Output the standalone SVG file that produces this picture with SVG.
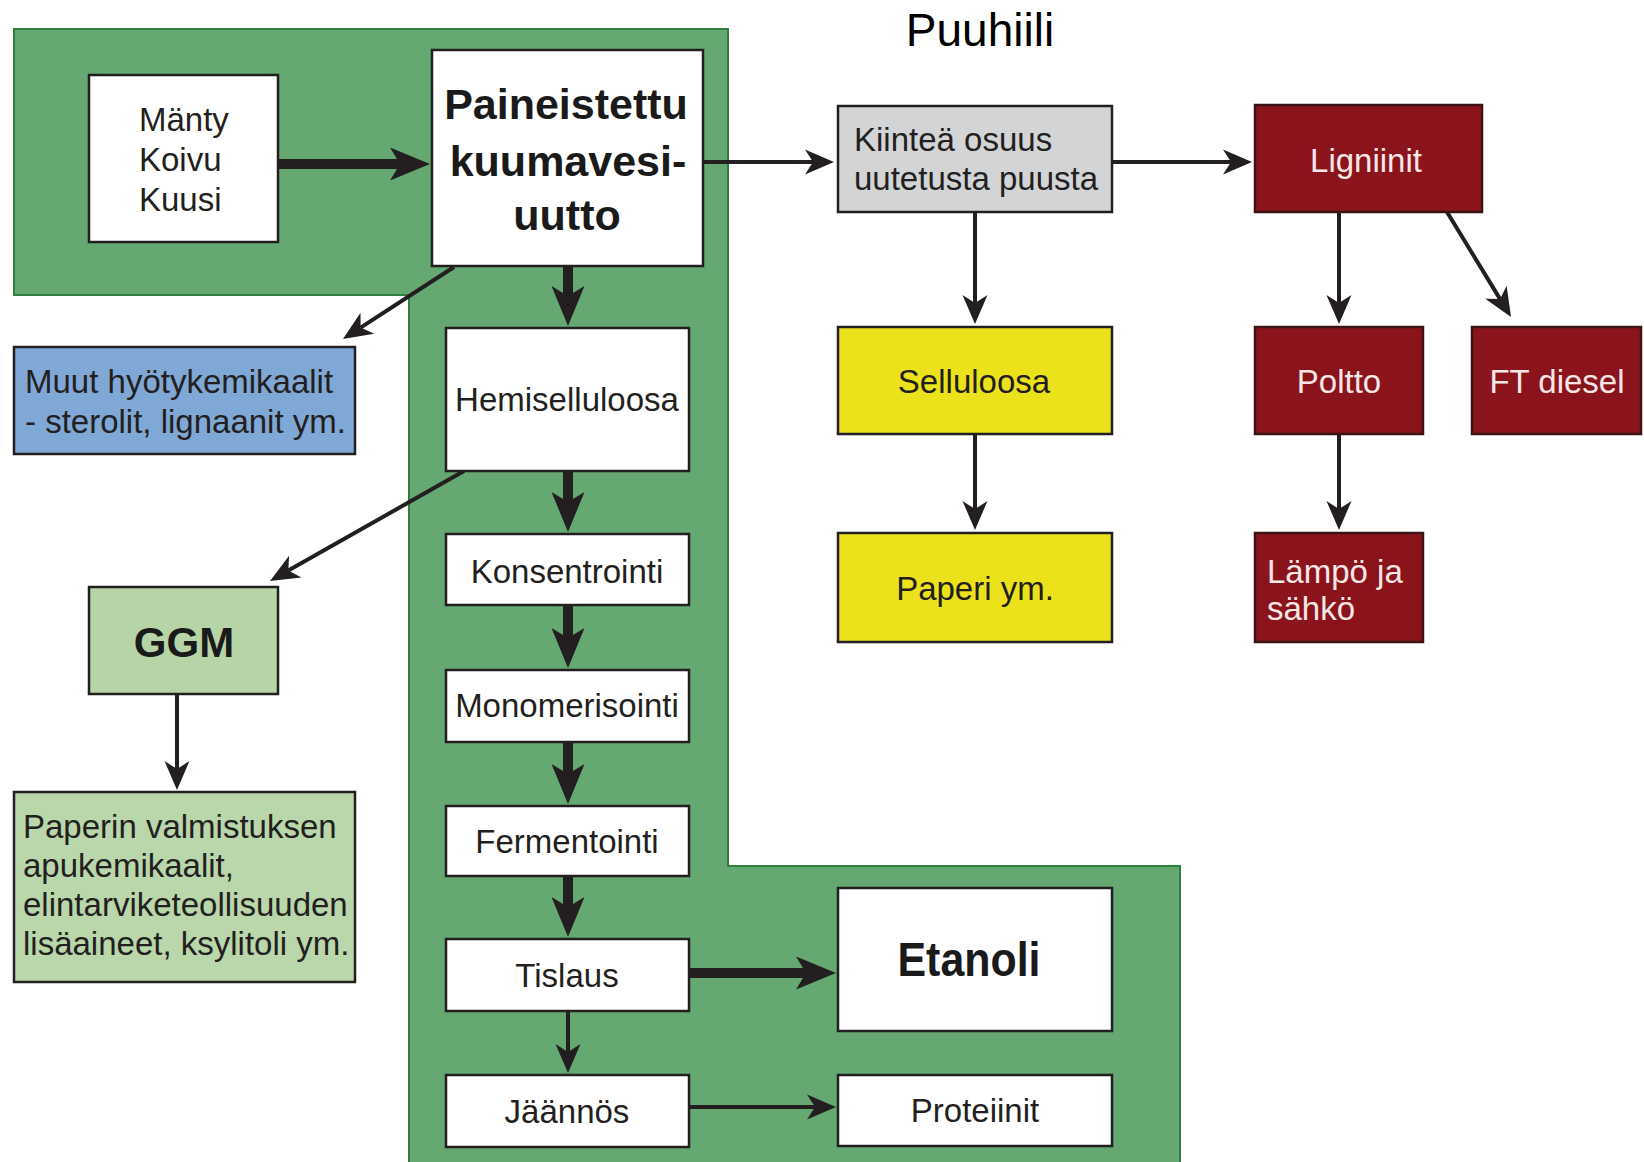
<svg xmlns="http://www.w3.org/2000/svg" width="1644" height="1162" viewBox="0 0 1644 1162">
<style>
.box{stroke:#231f20;stroke-width:2.5}
.w{fill:#ffffff}
.t{font-family:"Liberation Sans",Arial,sans-serif;font-size:33px;fill:#231f20}
.tb{font-family:"Liberation Sans",Arial,sans-serif;font-weight:bold;fill:#1a1a1a}
.red{fill:#8b141c;stroke:#3a1414;stroke-width:2.5}
.rt{fill:#f7e6e6}
.yel{fill:#ece21b}
.c{text-anchor:middle}
.thick{stroke:#231f20;stroke-width:10;fill:none}
.thin{stroke:#231f20;stroke-width:4;fill:none}
</style>
<defs>
<marker id="ahk" markerUnits="userSpaceOnUse" viewBox="-12 -20 50 40" markerWidth="50" markerHeight="40" refX="0" refY="0" orient="auto" overflow="visible">
<path d="M-10,-16.5 L30,0 L-10,16.5 L0,0 Z" fill="#231f20"/>
</marker>
<marker id="ahn" markerUnits="userSpaceOnUse" viewBox="-10 -14 36 28" markerWidth="36" markerHeight="28" refX="0" refY="0" orient="auto" overflow="visible">
<path d="M-8,-12.5 L21,0 L-8,12.5 L0,0 Z" fill="#231f20"/>
</marker>
</defs>
<rect width="1644" height="1162" fill="#ffffff"/>
<path id="bg" d="M14,29 H728 V866 H1180 V1164 H409 V295 H14 Z" fill="#65a872" stroke="#2f7f3f" stroke-width="2"/>
<text x="980" y="46" class="c" style="font-family:'Liberation Sans',Arial,sans-serif;font-size:46px;fill:#000">Puuhiili</text>
<g id="connectors">
<line class="thick" x1="278" y1="164" x2="400" y2="164" marker-end="url(#ahk)"/>
<line class="thick" x1="568" y1="266" x2="568" y2="296" marker-end="url(#ahk)"/>
<line class="thick" x1="568" y1="471" x2="568" y2="502" marker-end="url(#ahk)"/>
<line class="thick" x1="568" y1="605" x2="568" y2="638" marker-end="url(#ahk)"/>
<line class="thick" x1="568" y1="742" x2="568" y2="774" marker-end="url(#ahk)"/>
<line class="thick" x1="568" y1="876" x2="568" y2="907" marker-end="url(#ahk)"/>
<line class="thick" x1="689" y1="973" x2="806" y2="973" marker-end="url(#ahk)"/>
<line class="thin" x1="703" y1="162" x2="813" y2="162" marker-end="url(#ahn)"/>
<line class="thin" x1="1112" y1="162" x2="1231" y2="162" marker-end="url(#ahn)"/>
<line class="thin" x1="975" y1="212" x2="975" y2="303" marker-end="url(#ahn)"/>
<line class="thin" x1="975" y1="434" x2="975" y2="509" marker-end="url(#ahn)"/>
<line class="thin" x1="1339" y1="212" x2="1339" y2="303" marker-end="url(#ahn)"/>
<line class="thin" x1="1339" y1="434" x2="1339" y2="509" marker-end="url(#ahn)"/>
<line class="thin" x1="1447" y1="212" x2="1500.1" y2="299.1" marker-end="url(#ahn)"/>
<line class="thin" x1="454" y1="267" x2="360.6" y2="327.6" marker-end="url(#ahn)"/>
<line class="thin" x1="464" y1="471" x2="288.3" y2="570.6" marker-end="url(#ahn)"/>
<line class="thin" x1="568" y1="1011" x2="568" y2="1052" marker-end="url(#ahn)"/>
<line class="thin" x1="689" y1="1107" x2="815" y2="1107" marker-end="url(#ahn)"/>
<line class="thin" x1="177" y1="694" x2="177" y2="769" marker-end="url(#ahn)"/>
</g>
<g id="n-puulajit"><rect class="box w" x="89" y="75" width="189" height="167"/>
<text class="t" x="139" y="131">Mänty</text><text class="t" x="139" y="171">Koivu</text><text class="t" x="139" y="211">Kuusi</text></g>
<g id="n-uutto"><rect class="box w" x="432" y="50" width="271" height="216"/>
<text class="tb c" x="566" y="119" font-size="43">Paineistettu</text>
<text class="tb c" x="568" y="176" font-size="43">kuumavesi-</text>
<text class="tb c" x="567" y="230" font-size="43">uutto</text></g>
<g id="n-kiintea"><rect class="box" fill="#d3d4d6" x="838" y="106" width="274" height="106"/>
<text class="t" x="854" y="151">Kiinteä osuus</text><text class="t" x="854" y="190">uutetusta puusta</text></g>
<g id="n-ligniinit"><rect class="red" x="1255" y="105" width="227" height="107"/>
<text class="t rt c" x="1366" y="172">Ligniinit</text></g>
<g id="n-selluloosa"><rect class="box yel" x="838" y="327" width="274" height="107"/>
<text class="t c" x="974" y="393">Selluloosa</text></g>
<g id="n-poltto"><rect class="red" x="1255" y="327" width="168" height="107"/>
<text class="t rt c" x="1339" y="393">Poltto</text></g>
<g id="n-ftdiesel"><rect class="red" x="1472" y="327" width="169" height="107"/>
<text class="t rt c" x="1557" y="393">FT diesel</text></g>
<g id="n-paperi"><rect class="box yel" x="838" y="533" width="274" height="109"/>
<text class="t c" x="975" y="600">Paperi ym.</text></g>
<g id="n-lampo"><rect class="red" x="1255" y="533" width="168" height="109"/>
<text class="t rt" x="1267" y="583">Lämpö ja</text><text class="t rt" x="1267" y="620">sähkö</text></g>
<g id="n-muut"><rect class="box" fill="#7fa8d6" x="14" y="347" width="341" height="107"/>
<text class="t" x="25" y="393">Muut hyötykemikaalit</text><text class="t" x="25" y="433">- sterolit, lignaanit ym.</text></g>
<g id="n-hemi"><rect class="box w" x="446" y="328" width="243" height="143"/>
<text class="t c" x="567" y="411">Hemiselluloosa</text></g>
<g id="n-konsentrointi"><rect class="box w" x="446" y="534" width="243" height="71"/>
<text class="t c" x="567" y="583">Konsentrointi</text></g>
<g id="n-monomerisointi"><rect class="box w" x="446" y="670" width="243" height="72"/>
<text class="t c" x="567" y="717">Monomerisointi</text></g>
<g id="n-fermentointi"><rect class="box w" x="446" y="806" width="243" height="70"/>
<text class="t c" x="567" y="853">Fermentointi</text></g>
<g id="n-tislaus"><rect class="box w" x="446" y="939" width="243" height="72"/>
<text class="t c" x="567" y="987">Tislaus</text></g>
<g id="n-jaannos"><rect class="box w" x="446" y="1075" width="243" height="72"/>
<text class="t c" x="567" y="1123">Jäännös</text></g>
<g id="n-ggm"><rect class="box" fill="#b6d4a6" x="89" y="587" width="189" height="107"/>
<text class="tb c" x="184" y="657" font-size="42">GGM</text></g>
<g id="n-paperinvalm"><rect class="box" fill="#b9d7aa" x="14" y="792" width="341" height="190"/>
<text class="t" x="23" y="838">Paperin valmistuksen</text>
<text class="t" x="23" y="877">apukemikaalit,</text>
<text class="t" x="23" y="916">elintarviketeollisuuden</text>
<text class="t" x="23" y="955">lisäaineet, ksylitoli ym.</text></g>
<g id="n-etanoli"><rect class="box w" x="838" y="888" width="274" height="143"/>
<text class="tb c" x="969" y="976" font-size="48" textLength="143" lengthAdjust="spacingAndGlyphs">Etanoli</text></g>
<g id="n-proteiinit"><rect class="box w" x="838" y="1075" width="274" height="71"/>
<text class="t c" x="975" y="1122">Proteiinit</text></g>
</svg>
